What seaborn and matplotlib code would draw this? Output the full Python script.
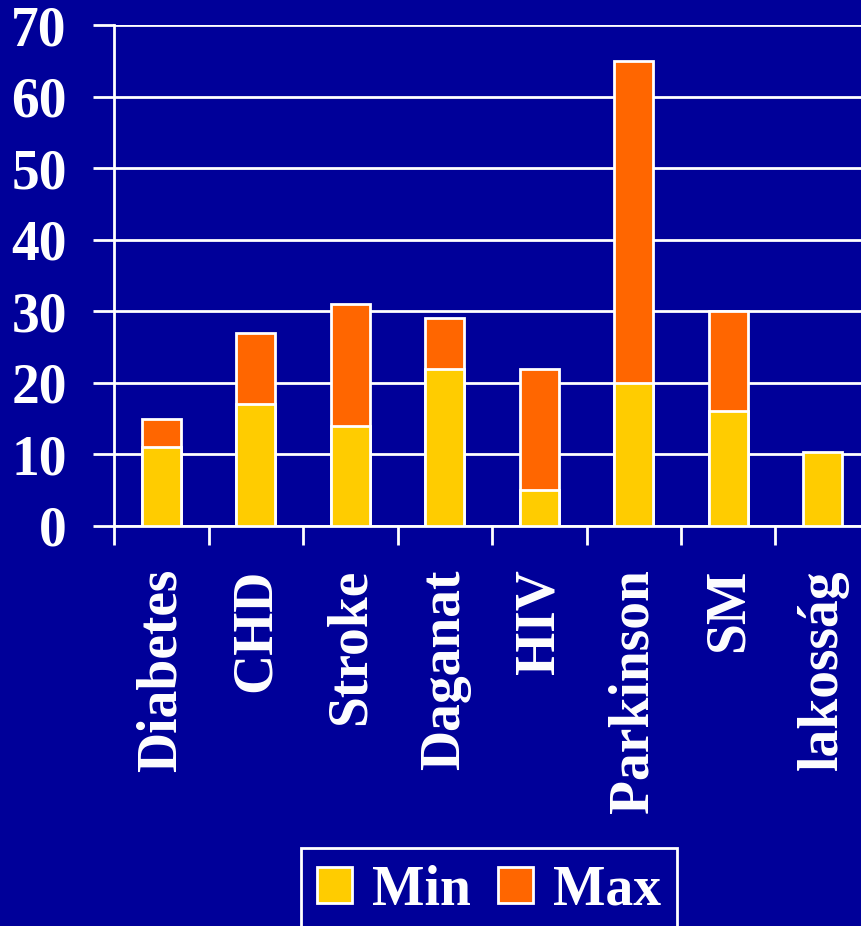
import numpy as np
import pandas as pd
import matplotlib
matplotlib.use("Agg")
import matplotlib.pyplot as plt
import seaborn as sns

categories = ["Diabetes", "CHD", "Stroke", "Daganat", "HIV", "Parkinson", "SM", "lakosság"]
min_vals = [11, 17, 14, 22, 5, 20, 16, 10.4]
max_vals = [15, 27, 31, 29, 22, 65, 30, np.nan]
y_ticks = [0, 10, 20, 30, 40, 50, 60, 70]

BG = "#000099"
YELLOW = "#FFCC00"
ORANGE = "#FF6600"
WHITE = "#FFFFFF"

sns.set_style("white")
plt.rcParams["font.family"] = ["Liberation Serif", "DejaVu Serif"]
plt.rcParams["font.weight"] = "bold"

df = pd.DataFrame({"cat": categories, "Min": min_vals, "Max": max_vals})

fig = plt.figure(figsize=(8.61, 9.26), dpi=100, facecolor=BG)
ax = fig.add_axes([114 / 861, 1 - 526 / 926, (870 - 114) / 861, (526 - 25) / 926])
ax.set_facecolor(BG)

# Max bars first (full height), then Min bars drawn over their lower part
sns.barplot(data=df, x="cat", y="Max", order=categories, color=ORANGE,
            width=0.41, edgecolor=WHITE, linewidth=2, errorbar=None,
            saturation=1, label="Max", ax=ax, zorder=3)
sns.barplot(data=df, x="cat", y="Min", order=categories, color=YELLOW,
            width=0.41, edgecolor=WHITE, linewidth=2, errorbar=None,
            saturation=1, label="Min", ax=ax, zorder=4)

ax.set_ylim(0, 70)
ax.set_xlim(-0.5, 7.5)
ax.set_yticks(y_ticks)
ax.set_yticklabels([str(v) for v in y_ticks], fontsize=40, fontweight="bold", color=WHITE)
ax.yaxis.grid(True, color=WHITE, linewidth=2, zorder=0)
ax.set_axisbelow(True)

ax.set_xticks(range(len(categories)))
ax.set_xticklabels(categories, rotation=90, fontsize=40, fontweight="bold", color=WHITE)
ax.set_xticks(np.arange(-0.5, len(categories), 1), minor=True)
ax.tick_params(axis="x", which="major", length=0, pad=31)
ax.tick_params(axis="x", which="minor", bottom=True, length=14, width=2, color=WHITE, direction="out")
ax.tick_params(axis="y", which="major", left=True, length=15, width=2, color=WHITE, direction="out", pad=19)
ax.set_xlabel("")
ax.set_ylabel("")

for side in ["top", "right"]:
    ax.spines[side].set_visible(False)
for side in ["left", "bottom"]:
    ax.spines[side].set_color(WHITE)
    ax.spines[side].set_linewidth(2)

handles, labels = ax.get_legend_handles_labels()
if ax.get_legend() is not None:
    ax.get_legend().remove()
order = [labels.index("Min"), labels.index("Max")]
leg = fig.legend([handles[i] for i in order], [labels[i] for i in order],
                 loc="upper center", bbox_to_anchor=(489 / 861, 1 - 848 / 926),
                 ncol=2, frameon=True, fancybox=False, facecolor=BG, edgecolor=WHITE,
                 framealpha=1, handlelength=0.62, handleheight=0.62,
                 handletextpad=0.36, columnspacing=0.5, borderpad=0.3,
                 borderaxespad=0,
                 prop={"family": "Liberation Serif", "weight": "bold", "size": 40})
leg.get_frame().set_linewidth(2)
for t in leg.get_texts():
    t.set_color(WHITE)

fig.savefig("out.png", dpi=100, facecolor=BG)
